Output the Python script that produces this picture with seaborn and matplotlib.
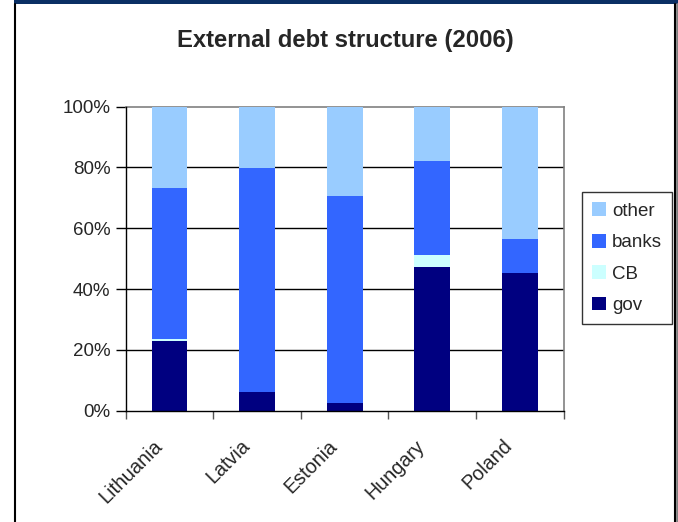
import numpy as np
import pandas as pd
import matplotlib
matplotlib.use("Agg")
import matplotlib.pyplot as plt
import matplotlib.transforms as mtransforms
import seaborn as sns
from matplotlib.patches import Patch, Rectangle
from matplotlib.ticker import PercentFormatter, FixedLocator

countries = ["Lithuania", "Latvia", "Estonia", "Hungary", "Poland"]
gov = [23.0, 6.2, 2.6, 47.3, 45.3]
cb = [0.7, 0.0, 0.0, 3.9, 0.0]
banks = [49.6, 73.6, 68.0, 30.9, 11.2]
other = [26.7, 20.2, 29.4, 17.9, 43.5]

series = ["other", "banks", "CB", "gov"]
colors = {"other": "#99CCFF", "banks": "#3366FF", "CB": "#CCFFFF", "gov": "#000080"}

df = pd.DataFrame({"country": countries, "gov": gov, "CB": cb, "banks": banks, "other": other})
df["cum_gov"] = df["gov"]
df["cum_CB"] = df["cum_gov"] + df["CB"]
df["cum_banks"] = df["cum_CB"] + df["banks"]
df["cum_other"] = df["cum_banks"] + df["other"]

sns.set_style("white")
plt.rcParams["font.family"] = ["Liberation Sans", "DejaVu Sans"]

W, H = 678, 522
fig = plt.figure(figsize=(W / 100, H / 100), dpi=100)
ax = fig.add_axes([125.7 / W, 1 - 410.7 / H, (563.5 - 125.7) / W, (410.7 - 106.5) / H])

for s in series:
    sns.barplot(data=df, x="country", y="cum_" + s, color=colors[s], width=0.41,
                saturation=1, ax=ax, order=countries, linewidth=0, zorder=3)

ax.set_ylim(0, 100)
ax.set_xlim(-0.5, 4.5)
ax.set_xlabel("")
ax.set_ylabel("")
ax.yaxis.set_major_locator(FixedLocator([0, 20, 40, 60, 80, 100]))
ax.yaxis.set_major_formatter(PercentFormatter(decimals=0))
for v in [20, 40, 60, 80]:
    ax.axhline(v, color="black", linewidth=1, zorder=1)

for side in ["top", "right"]:
    ax.spines[side].set_color("#808080")
    ax.spines[side].set_linewidth(1.2)
for side in ["left", "bottom"]:
    ax.spines[side].set_color("black")
    ax.spines[side].set_linewidth(1)
    ax.spines[side].set_zorder(4)

FS = 13.5
ax.tick_params(axis="y", which="major", left=True, length=7, width=1, color="black",
               labelsize=FS, pad=4)
ax.set_xticks(range(len(countries)))
ax.set_xticklabels(countries, rotation=45, ha="right", va="top", rotation_mode="anchor",
                   fontsize=14.2)
ax.tick_params(axis="x", which="major", length=0, pad=0)
offset = mtransforms.ScaledTranslation(-17 / 100, -25.5 / 100, fig.dpi_scale_trans)
for lbl in ax.get_xticklabels():
    lbl.set_transform(lbl.get_transform() + offset)
ax.set_xticks([-0.5, 0.5, 1.5, 2.5, 3.5, 4.5], minor=True)
ax.tick_params(axis="x", which="minor", bottom=True, length=6, width=1, color="#555555")

fig.text(345 / W, 1 - 40 / H, "External debt structure (2006)", ha="center", va="center",
         fontsize=17.2, fontweight="bold")

handles = [Patch(facecolor=colors[s], edgecolor="none", label=s) for s in series]
leg = fig.legend(handles=handles, loc="upper left", bbox_to_anchor=(582 / W, 1 - 192 / H),
                 frameon=True, fontsize=FS, handlelength=0.75, handleheight=0.75,
                 handletextpad=0.3, labelspacing=0.75, borderpad=0.55, fancybox=False,
                 borderaxespad=0)
leg.get_frame().set_edgecolor("black")
leg.get_frame().set_linewidth(1)

# outer chart frame
fig.patches.append(Rectangle((14 / W, 1 - 4 / H), 664 / W, 4 / H, transform=fig.transFigure,
                             facecolor="#0A2F64", edgecolor="none", zorder=0))
fig.lines.append(plt.Line2D([14.5 / W, 14.5 / W], [0, 1 - 4 / H], transform=fig.transFigure,
                            color="black", linewidth=1.5))
fig.lines.append(plt.Line2D([675 / W, 675 / W], [0, 1 - 4 / H], transform=fig.transFigure,
                            color="black", linewidth=1.5))
fig.lines.append(plt.Line2D([677 / W, 677 / W], [0, 1 - 4 / H], transform=fig.transFigure,
                            color="#808080", linewidth=2))

fig.savefig("out.png", dpi=100)
